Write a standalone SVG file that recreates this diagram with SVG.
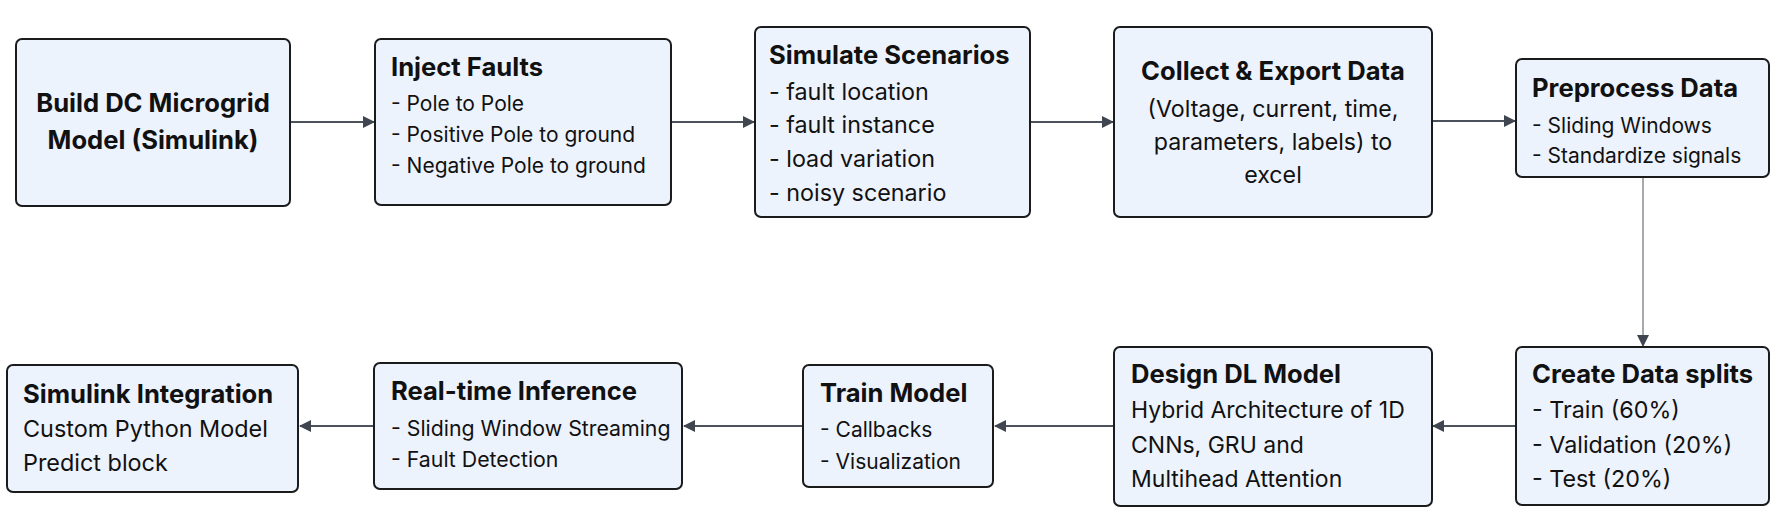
<svg xmlns="http://www.w3.org/2000/svg" width="1782" height="522" viewBox="0 0 1782 522">
<style>
.box{fill:#edf3fd;stroke:#1b1b1b;stroke-width:2}
.t{font-family:Inter,"Noto Sans","Liberation Sans",sans-serif;font-weight:700;fill:#111;font-size:25.6px}
.b{font-family:Inter,"Noto Sans","Liberation Sans",sans-serif;font-weight:400;fill:#111}
.c{text-anchor:middle}
.edge{stroke:#4b525c;stroke-width:2;fill:none}
.thin{stroke:#6b7078;stroke-width:1.2;fill:none}
</style>
<defs>
<marker id="ah" viewBox="0 0 12 12" refX="11" refY="6" markerWidth="12" markerHeight="12" markerUnits="userSpaceOnUse" orient="auto">
<path d="M0,0 L12,6 L0,12 Z" fill="#3f4650"/>
</marker>
</defs>
<rect width="1782" height="522" fill="#ffffff"/>
<g id="connectors">
<line class="edge" x1="291" y1="122" x2="374" y2="122" marker-end="url(#ah)"/>
<line class="edge" x1="671" y1="122" x2="754" y2="122" marker-end="url(#ah)"/>
<line class="edge" x1="1030" y1="122" x2="1113" y2="122" marker-end="url(#ah)"/>
<line class="edge" x1="1432" y1="121" x2="1515" y2="121" marker-end="url(#ah)"/>
<line class="thin" x1="1643" y1="177" x2="1643" y2="346" marker-end="url(#ah)"/>
<line class="edge" x1="1515" y1="426" x2="1433" y2="426" marker-end="url(#ah)"/>
<line class="edge" x1="1113" y1="426" x2="995" y2="426" marker-end="url(#ah)"/>
<line class="edge" x1="802" y1="426" x2="684" y2="426" marker-end="url(#ah)"/>
<line class="edge" x1="373" y1="426" x2="300" y2="426" marker-end="url(#ah)"/>
</g>
<g id="n1">
<rect class="box" x="16" y="39" width="274" height="167" rx="6"/>
<text class="t c" x="153" y="112">Build DC Microgrid</text>
<text class="t c" x="153" y="149">Model (Simulink)</text>
</g>
<g id="n2">
<rect class="box" x="375" y="39" width="296" height="166" rx="6"/>
<text class="t" x="391" y="76">Inject Faults</text>
<text class="b" x="391" y="111" font-size="21">- Pole to Pole</text>
<text class="b" x="391" y="142" font-size="21">- Positive Pole to ground</text>
<text class="b" x="391" y="173" font-size="21">- Negative Pole to ground</text>
</g>
<g id="n3">
<rect class="box" x="755" y="27" width="275" height="190" rx="6"/>
<text class="t" x="769" y="64">Simulate Scenarios</text>
<text class="b" x="769" y="100" font-size="23.3">- fault location</text>
<text class="b" x="769" y="133" font-size="23.3">- fault instance</text>
<text class="b" x="769" y="167" font-size="23.3">- load variation</text>
<text class="b" x="769" y="201" font-size="23.3">- noisy scenario</text>
</g>
<g id="n4">
<rect class="box" x="1114" y="27" width="318" height="190" rx="6"/>
<text class="t c" x="1273" y="80">Collect &amp; Export Data</text>
<text class="b c" x="1273" y="117" font-size="23.2">(Voltage, current, time,</text>
<text class="b c" x="1273" y="150" font-size="23.2">parameters, labels) to</text>
<text class="b c" x="1273" y="183" font-size="23.2">excel</text>
</g>
<g id="n5">
<rect class="box" x="1516" y="59" width="253" height="118" rx="6"/>
<text class="t" x="1532" y="97">Preprocess Data</text>
<text class="b" x="1532" y="133" font-size="21">- Sliding Windows</text>
<text class="b" x="1532" y="163" font-size="21">- Standardize signals</text>
</g>
<g id="n6">
<rect class="box" x="1516" y="347" width="253" height="158" rx="6"/>
<text class="t" x="1532" y="383">Create Data splits</text>
<text class="b" x="1532" y="418" font-size="23.3">- Train (60%)</text>
<text class="b" x="1532" y="453" font-size="23.3">- Validation (20%)</text>
<text class="b" x="1532" y="487" font-size="23.3">- Test (20%)</text>
</g>
<g id="n7">
<rect class="box" x="1114" y="347" width="318" height="159" rx="6"/>
<text class="t" x="1131" y="383">Design DL Model</text>
<text class="b" x="1131" y="418" font-size="23">Hybrid Architecture of 1D</text>
<text class="b" x="1131" y="453" font-size="23">CNNs, GRU and</text>
<text class="b" x="1131" y="487" font-size="23">Multihead Attention</text>
</g>
<g id="n8">
<rect class="box" x="803" y="365" width="190" height="122" rx="6"/>
<text class="t" x="820" y="402">Train Model</text>
<text class="b" x="820" y="437" font-size="21">- Callbacks</text>
<text class="b" x="820" y="469" font-size="21">- Visualization</text>
</g>
<g id="n9">
<rect class="box" x="374" y="363" width="308" height="126" rx="6"/>
<text class="t" x="391" y="400">Real-time Inference</text>
<text class="b" x="391" y="436" font-size="21.3">- Sliding Window Streaming</text>
<text class="b" x="391" y="467" font-size="21.3">- Fault Detection</text>
</g>
<g id="n10">
<rect class="box" x="7" y="365" width="291" height="127" rx="6"/>
<text class="t" x="23" y="403">Simulink Integration</text>
<text class="b" x="23" y="437" font-size="23.4">Custom Python Model</text>
<text class="b" x="23" y="471" font-size="23.4">Predict block</text>
</g>
</svg>
